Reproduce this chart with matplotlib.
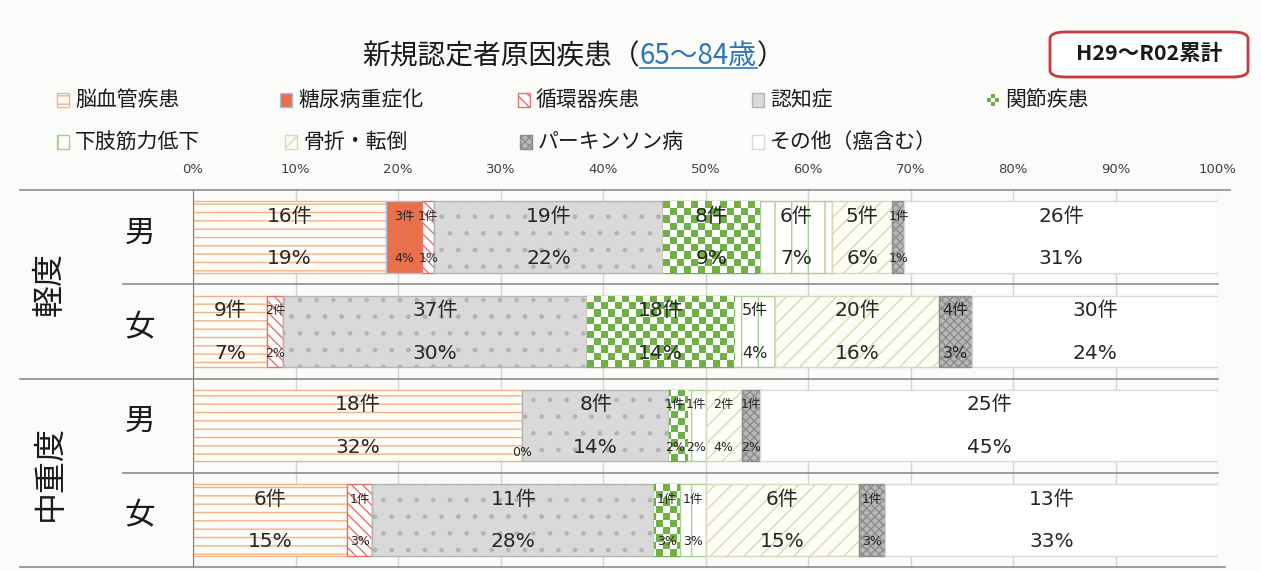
import numpy as np
import matplotlib.pyplot as plt
import matplotlib.transforms as mtransforms
from matplotlib.patches import Rectangle, FancyBboxPatch
from matplotlib.lines import Line2D

plt.rcParams['font.family'] = ['Noto Sans CJK JP', 'DejaVu Sans']
plt.rcParams['hatch.linewidth'] = 1.0

# 原因疾患（凡例順）
categories = ['脳血管疾患', '糖尿病重症化', '循環器疾患', '認知症', '関節疾患',
              '下肢筋力低下', '骨折・転倒', 'パーキンソン病', 'その他（癌含む）']

# 件数 H29～R02累計（65～84歳）
keido_male = [16, 3, 1, 19, 8, 6, 5, 1, 26]
keido_female = [9, 0, 2, 37, 18, 5, 20, 4, 30]
chuju_male = [18, 0, 0, 8, 1, 1, 2, 1, 25]
chuju_female = [6, 0, 1, 11, 1, 1, 6, 1, 13]

rows = [keido_male, keido_female, chuju_male, chuju_female]
row_sex = ['男', '女', '男', '女']
groups = ['軽度', '中重度']
ticks = np.arange(0, 101, 10)

# 0件でも割合ラベルを残すセル (行, 疾患)
zero_labels = [(2, 2)]

# 疾患ごとの塗り
styles = [
    dict(fc='#FFFDF8', ec='#F4B183', hatch='--'),
    dict(fc='#E8704A', ec='#9DC3E6', hatch=None),
    dict(fc='#FFFFFF', ec='#E8706A', hatch='\\\\\\'),
    dict(fc='#D9D9D9', ec='#B4B4B4', hatch='.'),
    dict(fc='#FFFFFF', ec='#70AD47', hatch=None),
    dict(fc='#FFFFFF', ec='#A9D18E', hatch='|'),
    dict(fc='#FDFDF6', ec='#D8D8B8', hatch='//'),
    dict(fc='#B8B8B8', ec='#8C8C8C', hatch='xxxx'),
    dict(fc='#FFFFFF', ec='#D9D9D9', hatch=None),
]
CHECK_GREEN = np.array([0x6F, 0xB1, 0x44]) / 255


def checker(n_rows, n_cols):
    a = (np.add.outer(np.arange(n_rows), np.arange(n_cols)) % 2).astype(bool)
    img = np.ones((n_rows, n_cols, 3))
    img[a] = CHECK_GREEN
    return img


W, H = 1261, 571
fig = plt.figure(figsize=(W / 100, H / 100), dpi=100, facecolor='#FBFBF9')
ax = fig.add_axes([193 / W, (H - 567) / H, 1025 / W, 377 / H])
ax.set_facecolor('none')

num_font = ['DejaVu Sans', 'Noto Sans CJK JP']
bar_h = 0.76
small_gap = 2.1  # 小さいラベル同士の最小間隔（%単位）

for i, counts in enumerate(rows):
    counts = np.array(counts)
    share = counts / counts.sum() * 100
    lefts = np.concatenate([[0], np.cumsum(share)[:-1]])
    labels = []
    for j, st in enumerate(styles):
        x0, w = lefts[j], share[j]
        if counts[j] == 0:
            if (i, j) in zero_labels:
                ax.text(x0, i + 0.28, '0%', ha='center', va='center',
                        fontsize=9, color='#262626', family=num_font, zorder=5)
            continue
        bar = ax.barh(i, w, left=x0, height=bar_h, color=st['fc'],
                      edgecolor=st['ec'], hatch=st['hatch'], linewidth=1,
                      zorder=2)[0]
        if j == 4:
            img = checker(10, 146)
            im = ax.imshow(img, extent=(0, 100, i + bar_h / 2, i - bar_h / 2),
                           aspect='auto', interpolation='nearest', zorder=2.1)
            im.set_clip_path(bar)
        if w >= 5:
            fs = 14.5
        elif counts[j] >= 4:
            fs = 11.5
        else:
            fs = 9
        labels.append([x0 + w / 2, fs, counts[j], int(np.floor(w + 0.5))])

    # 隣り合う小さいラベルが重ならないよう左へずらす
    for k in range(len(labels) - 2, -1, -1):
        if labels[k][1] < 10 and labels[k + 1][1] < 10:
            labels[k][0] = min(labels[k][0], labels[k + 1][0] - small_gap)

    for xc, fs, n, pct in labels:
        ax.text(xc, i - 0.22, f'{n}件', ha='center', va='center',
                fontsize=fs, color='#262626', family=num_font, zorder=5)
        ax.text(xc, i + 0.23, f'{pct}%', ha='center', va='center',
                fontsize=fs, color='#262626', family=num_font, zorder=5)

ax.set_xlim(0, 100)
ax.set_ylim(3.5, -0.5)
ax.set_xticks(ticks)
ax.set_xticklabels([f'{t}%' for t in ticks], fontsize=9.5, color='#404040',
                   family='DejaVu Sans')
ax.xaxis.tick_top()
ax.tick_params(axis='x', length=0, pad=10)
ax.set_yticks([])
ax.grid(axis='x', color='#D4D4D4', linewidth=1, zorder=0)
ax.set_axisbelow(True)
for side in ['top', 'right', 'bottom']:
    ax.spines[side].set_visible(False)
ax.spines['left'].set_color('#7F7F7F')

# 表の罫線と行見出し
tr = mtransforms.blended_transform_factory(fig.transFigure, ax.transData)
for y, x_start, x_end in [(-0.5, 20, 1230), (1.5, 20, 1218), (3.5, 20, 1225),
                          (0.5, 123, 1218), (2.5, 123, 1218)]:
    ax.add_line(Line2D([x_start / W, x_end / W], [y, y], transform=tr,
                       color='#8C8C8C', linewidth=1.2, clip_on=False, zorder=3))
for i, s in enumerate(row_sex):
    ax.text(140 / W, i - 0.04, s, transform=tr, ha='center', va='center',
            fontsize=22, color='#1A1A1A')
for g, y in zip(groups, [0.5, 2.5]):
    ax.text(50 / W, y, g, transform=tr, ha='center', va='center', rotation=90,
            fontsize=23, color='#1A1A1A')

# タイトル
t1 = fig.text(362 / W, 1 - 56 / H, '新規認定者原因疾患（', ha='left', va='center',
              fontsize=20, color='#1A1A1A')
t2 = ax.annotate('65～84歳', xy=(1, 0), xycoords=t1, ha='left', va='bottom',
                 fontsize=20, color='#2E75B6', annotation_clip=False)
t3 = ax.annotate('）', xy=(1, 0), xycoords=t2, ha='left', va='bottom',
                 fontsize=20, color='#1A1A1A', annotation_clip=False)

# 集計期間の枠
fig.patches.append(FancyBboxPatch((1050 / W, 1 - 77 / H), 198 / W, 45 / H,
                                  boxstyle='round,pad=0,rounding_size=0.012',
                                  transform=fig.transFigure, facecolor='#FFFFFF',
                                  edgecolor='#C8383C', linewidth=2))
fig.text(1149 / W, 1 - 54 / H, 'H29～R02累計', ha='center', va='center',
         fontsize=15.5, fontweight='bold', color='#1A1A1A')

# 凡例
legend_pos = [(75, 100), (298, 100), (536, 100), (770, 100), (1005, 100),
              (75, 142), (303, 142), (538, 142), (770, 142)]
for (tx, ty), name, st in zip(legend_pos, categories, styles):
    hx = tx - 18
    if name == '関節疾患':
        fig.figimage(np.kron(checker(3, 3), np.ones((4, 4, 1))),
                     xo=hx, yo=H - ty - 6, zorder=3)
    else:
        fig.patches.append(Rectangle((hx / W, 1 - (ty + 7) / H), 12 / W, 14 / H,
                                     transform=fig.transFigure, facecolor=st['fc'],
                                     edgecolor=st['ec'], hatch=st['hatch'],
                                     linewidth=1))
    fig.text(tx / W, 1 - ty / H, name, ha='left', va='center', fontsize=15,
             color='#1A1A1A')

fig.canvas.draw()
bb = t2.get_window_extent()
fig.add_artist(Line2D([bb.x0, bb.x1], [bb.y0 + 3, bb.y0 + 3], transform=None,
                      color='#2E75B6', linewidth=1.2))

fig.savefig('out.png', dpi=100, facecolor=fig.get_facecolor())
